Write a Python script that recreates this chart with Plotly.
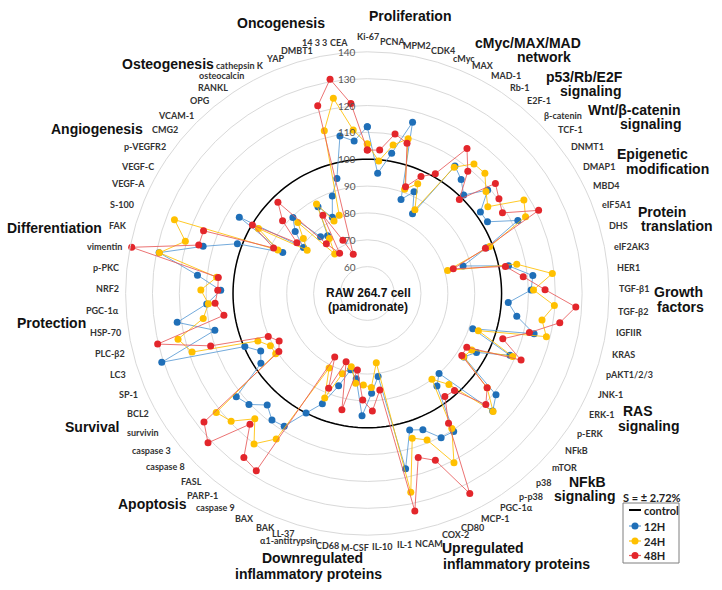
import plotly.graph_objects as go

categories = ["Ki-67", "PCNA", "MPM2", "CDK4", "cMyc", "MAX", "MAD-1", "Rb-1", "E2F-1",
              "β-catenin", "TCF-1", "DNMT1", "DMAP1", "MBD4", "eIF5A1", "DHS", "eIF2AK3",
              "HER1", "TGF-β1", "TGF-β2", "IGFIIR", "KRAS", "pAKT1/2/3", "JNK-1", "ERK-1",
              "p-ERK", "NFkB", "mTOR", "p38", "p-p38", "PGC-1α", "MCP-1", "CD80", "COX-2",
              "NCAM", "IL-1", "IL-10", "M-CSF", "CD68", "α1-antitrypsin", "LL-37", "BAK",
              "BAX", "caspase 9", "PARP-1", "FASL", "caspase 8", "caspase 3", "survivin",
              "BCL2", "SP-1", "LC3", "PLC-β2", "HSP-70", "PGC-1α", "NRF2", "p-PKC",
              "vimentin", "FAK", "S-100", "VEGF-A", "VEGF-C", "p-VEGFR2", "CMG2", "VCAM-1",
              "OPG", "RANKL", "osteocalcin", "cathepsin K", "YAP", "DMBT1", "14 3 3", "CEA"]

h12 = [112.1, 94.9, 103.0, 116.0, 87.2, 91.7, 84.1, 107.6, 105.0, 101.3, 109.1, 101.9,
       102.1, 112.3, 97.5, 87.1, 103.6, 112.0, 111.0, 102.6, 106.3, 113.9, 91.4, 107.9,
       96.2, 93.0, 111.0, 114.0, 90.0, 93.1, 110.6, 110.3, 104.8, 103.2, 116.8, 81.2,
       87.2, 95.6, 82.0, 79.1, 86.0, 94.3, 100.0, 108.3, 109.0, 105.8, 110.4, 112.1,
       97.4, 95.1, 99.7, 130.7, 108.4, 121.6, 109.9, 104.6, 113.6, 129.0, 113.6, 101.8,
       85.0, 105.5, 79.3, 85.4, 89.6, 77.4, 76.1, 87.2, 81.2, 88.6, 94.3, 109.5, 107.0]

h24 = [105.7, 99.5, 106.1, 109.6, 91.2, 95.0, 85.9, 107.1, 112.5, 112.6, 108.3, 105.3,
       117.9, 115.5, 98.8, 81.1, 106.7, 119.3, 111.9, 119.8, 115.8, 118.6, 93.6, 109.0,
       94.2, 92.9, 106.8, 114.2, 95.5, 90.0, 109.3, 120.8, 108.9, 106.4, 125.8, 76.0,
       85.0, 84.1, 83.7, 77.9, 81.3, 92.0, 81.2, 113.9, 120.1, 112.7, 119.5, 121.6,
       90.8, 91.0, 94.4, 118.8, 122.5, 111.8, 109.3, 112.0, 106.4, 128.9, 120.5, 126.9,
       87.0, 97.2, 77.6, 81.4, 87.0, 69.1, 74.9, 88.3, 79.7, 81.0, 112.7, 123.8, 111.1]

h48 = [103.4, 103.6, 110.3, 107.9, 92.2, 97.9, 101.3, 115.5, 108.9, 99.0, 112.9, 110.4,
       108.6, 120.9, 97.1, 83.3, 102.4, 108.4, 116.2, 127.8, 122.5, 112.1, 103.2, 112.4,
       92.1, 92.1, 106.8, 110.5, 98.6, 98.0, 107.0, 133.7, 117.1, 113.9, 132.9, 86.2,
       93.8, 89.7, 78.7, 94.3, 76.6, 88.1, 76.6, 127.9, 126.4, 115.4, 131.3, 127.4,
       89.4, 87.3, 90.2, 111.5, 130.3, 104.0, 106.8, 105.7, 105.8, 139.4, 115.3, 115.3,
       88.8, 99.8, 82.3, 91.6, 97.6, 74.0, 68.2, 83.5, 71.8, 65.5, 122.3, 131.0, 121.0]

control_value = 100
radial_ticks = [60, 70, 80, 90, 100, 110, 120, 130, 140]
legend_names = ["control", "12H", "24H", "48H"]

# label centres (pixels) as placed in the figure, one per category
label_pos = [(368, 36), (392, 42), (416.5, 45), (443, 51), (463.5, 58), (482.5, 65), (506, 76),
             (519.5, 87), (538.5, 100), (562.5, 115), (570, 130), (587, 147), (599, 166),
             (606.5, 185), (616, 205), (618, 225), (631, 246), (628, 267), (633.5, 289),
             (633, 311), (628.5, 332), (623, 354), (629, 374), (610.5, 394), (601, 414),
             (590, 433), (576, 450), (564, 467), (543.5, 482), (530.5, 496), (516.5, 507),
             (495.5, 518), (472, 527), (455, 534), (428.5, 543), (404, 544), (382.5, 546),
             (355, 547), (327, 545), (288, 540.5), (283, 533.5), (265, 527), (245, 518),
             (215.5, 507), (202.5, 495), (191, 481), (165.5, 466), (151, 450), (142.5, 432),
             (137.5, 413), (128, 394), (118.5, 374), (110, 353), (105, 332), (102, 310),
             (107, 289), (106, 268), (104, 246), (118.5, 225), (122, 204), (127.5, 184),
             (137.7, 166), (144.5, 147), (165, 130), (176, 115), (199.5, 100), (212.5, 87),
             (221.5, 76), (240, 65), (275, 58), (296.5, 51), (314.5, 43), (338.5, 43)]

groups = [
    ("Oncogenesis", 281, 23), ("Proliferation", 410, 16),
    ("cMyc/MAX/MAD", 528, 43), ("network", 544, 57),
    ("p53/Rb/E2F", 584, 77), ("signaling", 590, 91),
    ("Wnt/β-catenin", 634, 110), ("signaling", 650, 124),
    ("Epigenetic", 652, 154), ("modification", 667, 169),
    ("Protein", 662, 212), ("translation", 677, 226),
    ("Growth", 678, 292), ("factors", 680, 307),
    ("RAS", 638, 411), ("signaling", 648, 426),
    ("NFkB", 587, 482), ("signaling", 584, 496),
    ("Upregulated", 483, 548), ("inflammatory proteins", 516, 564),
    ("Downregulated", 312, 558), ("inflammatory proteins", 308, 574),
    ("Apoptosis", 152, 504), ("Survival", 92, 427), ("Protection", 51, 323),
    ("Differentiation", 55, 228), ("Angiogenesis", 97, 129), ("Osteogenesis", 168, 64),
]

W, H = 722, 590
cx, cy, R = 367.3, 293.5, 241.7
rmin, rmax = 50, 140
n = len(categories)
theta = [i * 360.0 / n for i in range(n)]

fig = go.Figure()

ctheta = [i for i in range(0, 361, 2)]
fig.add_trace(go.Scatterpolar(r=[control_value] * len(ctheta), theta=ctheta, mode="lines",
                              line=dict(color="black", width=1.5), name="control",
                              showlegend=False, hoverinfo="skip"))

series = [("12H", h12, "#1f6fb8", "rgba(91,155,213,0.85)"),
          ("24H", h24, "#ffc000", "rgba(255,192,0,0.85)"),
          ("48H", h48, "#e3262b", "rgba(232,90,90,0.85)")]
for name, vals, mc, lc in series:
    fig.add_trace(go.Scatterpolar(r=vals + [vals[0]], theta=theta + [360.0],
                                  mode="lines+markers", name=name, showlegend=False,
                                  line=dict(color=lc, width=1),
                                  marker=dict(color=mc, size=7)))


def px(x):
    return x / W


def py(y):
    return 1 - y / H


annotations = []
for lab, (lx, ly) in zip(categories, label_pos):
    annotations.append(dict(text="<b>" + lab + "</b>", x=px(lx), y=py(ly), xref="paper", yref="paper",
                            xanchor="center", yanchor="middle", showarrow=False,
                            font=dict(family="Lato", size=9, color="#333333")))
for v in radial_ticks:
    yy = cy - (v - rmin) / (rmax - rmin) * R
    annotations.append(dict(text=str(v), x=px(358), y=py(yy), xref="paper", yref="paper",
                            xanchor="right", yanchor="middle", showarrow=False,
                            font=dict(family="Lato", size=10, color="#555555")))
for txt, x, y in groups:
    annotations.append(dict(text="<b>" + txt + "</b>", x=px(x), y=py(y), xref="paper", yref="paper",
                            xanchor="center", yanchor="middle", showarrow=False,
                            font=dict(family="Liberation Sans, Arial", size=14, color="#111111")))
annotations.append(dict(text="<b>RAW 264.7 cell</b>", x=px(368), y=py(293), xref="paper", yref="paper",
                        showarrow=False, xanchor="center", yanchor="middle",
                        font=dict(family="Liberation Sans, Arial", size=12, color="#111111")))
annotations.append(dict(text="<b>(pamidronate)</b>", x=px(368), y=py(307), xref="paper", yref="paper",
                        showarrow=False, xanchor="center", yanchor="middle",
                        font=dict(family="Liberation Sans, Arial", size=12, color="#111111")))
annotations.append(dict(text="<b>S = ± 2.72%</b>", x=px(652), y=py(497), xref="paper", yref="paper",
                        showarrow=False, xanchor="center", yanchor="middle",
                        font=dict(family="Lato", size=11, color="#222222")))

shapes = [dict(type="rect", xref="paper", yref="paper", x0=px(623), x1=px(679), y0=py(563), y1=py(503),
               line=dict(color="#7f7f7f", width=1), fillcolor="white", layer="above")]
leg_rows = [(legend_names[0], 510, "black", None), (legend_names[1], 526, "#5b9bd5", "#1f6fb8"),
            (legend_names[2], 541, "#ffc000", "#ffc000"), (legend_names[3], 555.5, "#e85a5a", "#e3262b")]
for name, yy, lc, mc in leg_rows:
    shapes.append(dict(type="line", xref="paper", yref="paper", x0=px(629), x1=px(641), y0=py(yy), y1=py(yy),
                       line=dict(color=lc, width=2 if mc is None else 1.2), layer="above"))
    if mc is not None:
        shapes.append(dict(type="circle", xref="paper", yref="paper", x0=px(635 - 3.5), x1=px(635 + 3.5),
                           y0=py(yy + 3.5), y1=py(yy - 3.5), fillcolor=mc, line=dict(color=mc, width=0),
                           layer="above"))
    annotations.append(dict(text="<b>" + name + "</b>", x=px(642), y=py(yy), xref="paper", yref="paper",
                            xanchor="left", yanchor="middle", showarrow=False,
                            font=dict(family="Lato", size=11, color="#222222")))

fig.update_layout(
    width=W, height=H, margin=dict(l=0, r=0, t=0, b=0),
    paper_bgcolor="white", plot_bgcolor="white",
    polar=dict(
        domain=dict(x=[(cx - R) / W, (cx + R) / W], y=[1 - (cy + R) / H, 1 - (cy - R) / H]),
        bgcolor="white",
        radialaxis=dict(range=[rmin, rmax], tickmode="array", tickvals=radial_ticks,
                        angle=90, showticklabels=False, showline=False,
                        gridcolor="#d9d9d9", gridwidth=1, ticks=""),
        angularaxis=dict(rotation=90, direction="clockwise", tickmode="array",
                         tickvals=theta, showticklabels=False,
                         showgrid=False, showline=True, linecolor="#d9d9d9", ticks=""),
    ),
    showlegend=False,
    annotations=annotations,
    shapes=shapes,
)

fig.write_html("out.html", config={"displayModeBar": False},
               post_script="document.body.style.margin='0';document.body.style.padding='0';")
